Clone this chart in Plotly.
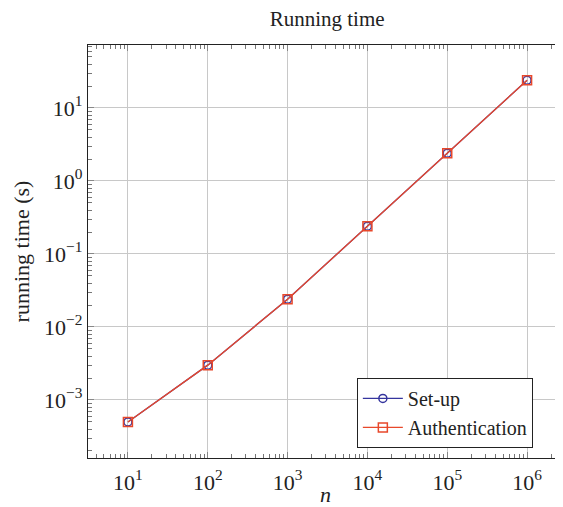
import plotly.graph_objects as go

n_values = [1e1, 1e2, 1e3, 1e4, 1e5, 1e6]
setup_times = [5.0e-4, 3.0e-3, 2.4e-2, 2.4e-1, 2.4, 24.0]
auth_times = [5.0e-4, 3.0e-3, 2.4e-2, 2.4e-1, 2.4, 24.0]

x_tickvals = [1e1, 1e2, 1e3, 1e4, 1e5, 1e6]
x_ticktext = ["10<sup>1</sup>", "10<sup>2</sup>", "10<sup>3</sup>", "10<sup>4</sup>", "10<sup>5</sup>", "10<sup>6</sup>"]
y_tickvals = [1e-3, 1e-2, 1e-1, 1e0, 1e1]
y_ticktext = ["10<sup>−3</sup>", "10<sup>−2</sup>", "10<sup>−1</sup>", "10<sup>0</sup>", "10<sup>1</sup>"]

FONT = "Liberation Serif"
BLUE = "#35359e"
RED = "#e8482b"

fig = go.Figure()
fig.add_trace(go.Scatter(
    x=n_values, y=setup_times, mode="lines+markers", name="Set-up",
    line=dict(color=BLUE, width=1.3),
    marker=dict(symbol="circle-open", size=8, color=BLUE, line=dict(width=1.5)),
))
fig.add_trace(go.Scatter(
    x=n_values, y=auth_times, mode="lines+markers", name="Authentication",
    line=dict(color=RED, width=1.3),
    marker=dict(symbol="square-open", size=9, color=RED, line=dict(width=1.5)),
))

axis_common = dict(
    automargin=False,
    showline=True, linecolor="#222", linewidth=1.3,
    showgrid=True, gridcolor="#c8c8c8", gridwidth=1,
    ticks="inside", ticklen=6, tickcolor="#888", tickwidth=1,
    zeroline=False,
    tickfont=dict(family=FONT, size=22, color="#222"),
    minor=dict(ticks="inside", ticklen=4, tickcolor="#777", tickwidth=1, dtick="D1", showgrid=False),
)

fig.update_layout(
    width=555, height=499,
    margin=dict(l=80, r=0, t=37, b=49, autoexpand=False),
    paper_bgcolor="white", plot_bgcolor="white",
    title=dict(text="Running time", x=0.575, xanchor="center", y=0.978, yanchor="middle",
               font=dict(family=FONT, size=21, color="#222")),
    xaxis=dict(type="log", range=[0.5, 6.45], tickvals=x_tickvals, ticktext=x_ticktext,
               mirror="ticks", ticklabelstandoff=4,
               title=dict(text="<i>n</i>", font=dict(family=FONT, size=22, color="#222"), standoff=0),
               **axis_common),
    yaxis=dict(type="log", range=[-3.795, 1.863], tickvals=y_tickvals, ticktext=y_ticktext,
               title=dict(text="running time (s)", font=dict(family=FONT, size=22, color="#222"), standoff=8),
               **axis_common),
    legend=dict(x=0.566, y=0.194, xanchor="left", yanchor="top",
                bgcolor="white", bordercolor="#222", borderwidth=1,
                font=dict(family=FONT, size=20, color="#222"),
                itemwidth=40, tracegroupgap=0),
    showlegend=True,
)

fig.write_html("out.html")
